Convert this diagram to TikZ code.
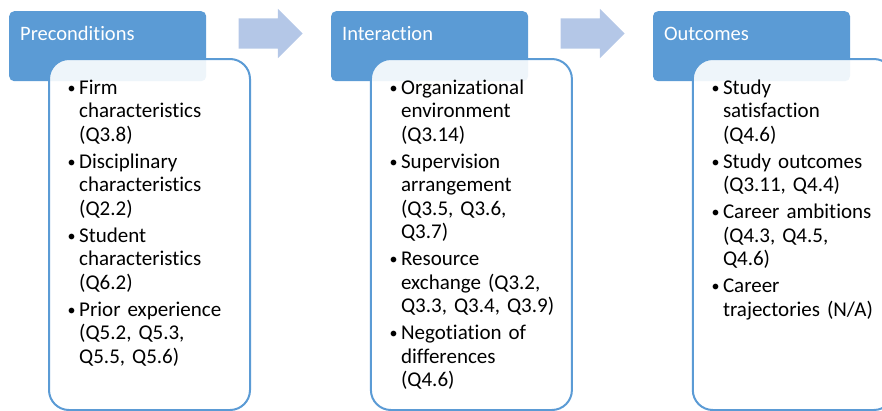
\documentclass[tikz,border=0pt]{standalone}
\usepackage{fontspec}
\setmainfont{Carlito}[Ligatures=NoCommon, RawFeature={-calt}]
\usepackage{xcolor}
\usepackage{tikz}
\usetikzlibrary{positioning,shapes.arrows}
\definecolor{headblue}{HTML}{5B9BD5}
\definecolor{lineblue}{HTML}{5B9BD5}
\definecolor{arrowblue}{HTML}{B4C7E7}
\frenchspacing
% one bulleted entry, later lines hang under the text
\newcommand{\bitem}[1]{\par\hangindent=12pt\hangafter=1\noindent
  \makebox[12pt][l]{\hspace{0.5pt}\raisebox{1.2pt}{\fontsize{16}{16}\selectfont\textbullet}}#1\par}

\begin{document}
\begin{tikzpicture}[x=1pt, y=1pt, node distance=124.5pt,
  head/.style={fill=headblue, rounded corners=5pt, text=white, font=\fontsize{20.5}{24}\selectfont,
    text width=175pt, align=left, inner xsep=11pt, inner ysep=0pt, text height=29pt, text depth=41pt},
  lowbox/.style={draw=lineblue, line width=2pt, fill=white, fill opacity=0.9, rounded corners=20pt,
    minimum width=201pt, minimum height=351pt, inner sep=0pt, anchor=north west},
  itemlist/.style={text width=178pt, align=left, inner sep=0pt, anchor=north west,
    font=\fontsize{21}{23.5}\selectfont, execute at begin node=\setlength{\parskip}{3.5pt}},
  flowarrow/.style={single arrow, fill=arrowblue, text height=15pt, text depth=15pt, minimum height=64pt,
    single arrow head extend=9.5pt, inner sep=0pt, anchor=west}]
\useasboundingbox (0,0) rectangle (882,-410);
\clip (0,0) rectangle (882,-410);
% top headers
\node[head, anchor=north west] (pre) at (9,-11) {Preconditions};
\node[head, right=of pre] (inter) {Interaction};
\node[head, right=of inter] (out) {Outcomes};
% block arrows between the stages
\node[flowarrow] (arr1) at ([shift={(32pt,-22.5pt)}]pre.north east) {};
\node[flowarrow] (arr2) at ([shift={(32pt,-22.5pt)}]inter.north east) {};
% item boxes
\node[lowbox] (prebox) at ([shift={(39pt,-47pt)}]pre.north west) {};
\node[lowbox] (interbox) at ([shift={(39pt,-47pt)}]inter.north west) {};
\node[lowbox] (outbox) at ([shift={(39pt,-47pt)}]out.north west) {};
\node[itemlist] (prelist) at ([shift={(19pt,-9pt)}]prebox.north west) {%
  \bitem{Firm\newline characteristics\newline (Q3.8)}
  \bitem{Disciplinary\newline characteristics\newline (Q2.2)}
  \bitem{Student\newline characteristics\newline (Q6.2)}
  \bitem{Prior experience\newline (Q5.2, Q5.3,\newline Q5.5, Q5.6)}};
\node[itemlist] (interlist) at ([shift={(19pt,-9pt)}]interbox.north west) {%
  \bitem{Organizational\newline environment\newline (Q3.14)}
  \bitem{Supervision\newline arrangement\newline (Q3.5, Q3.6,\newline Q3.7)}
  \bitem{Resource\newline exchange (Q3.2,\newline Q3.3, Q3.4, Q3.9)}
  \bitem{Negotiation of\newline differences\newline (Q4.6)}};
\node[itemlist] (outlist) at ([shift={(19pt,-9pt)}]outbox.north west) {%
  \bitem{Study\newline satisfaction\newline (Q4.6)}
  \bitem{Study outcomes\newline (Q3.11, Q4.4)}
  \bitem{Career ambitions\newline (Q4.3, Q4.5,\newline Q4.6)}
  \bitem{Career\newline trajectories (N/A)}};
\end{tikzpicture}
\end{document}
